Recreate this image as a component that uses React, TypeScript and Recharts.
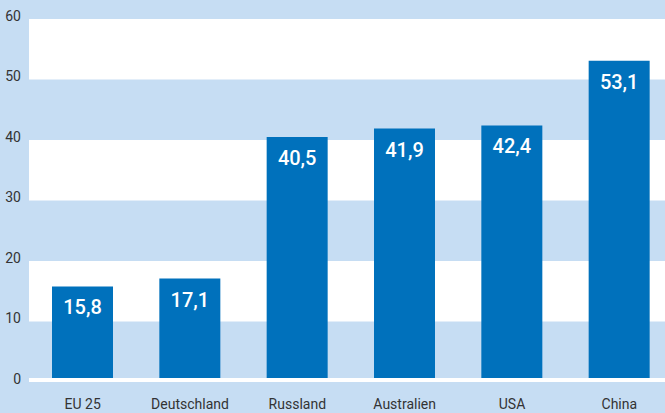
import React from "react";
import { BarChart, Bar, XAxis, YAxis, ReferenceArea, ReferenceLine, LabelList } from "recharts";

if (typeof document !== "undefined") document.body.style.margin = "0";

const laender = ["EU 25", "Deutschland", "Russland", "Australien", "USA", "China"];
const werte = [15.8, 17.1, 40.5, 41.9, 42.4, 53.1];
const yTicks = [0, 10, 20, 30, 40, 50, 60];
// weisse Streifen zwischen diesen Tick-Werten
const streifen = [
  [10, 20],
  [30, 40],
  [50, 60],
];

const data = laender.map((land, i) => ({ land, wert: werte[i] }));

const FONT = "Roboto, 'Noto Sans', sans-serif";
const BG = "#c6ddf3";
const BAR = "#0071bc";
const TEXT = "#333333";

const fmt = (v: number) => v.toFixed(1).replace(".", ",");

function YTick({ x, y, payload }: any) {
  return (
    <text x={x} y={y} dy={1.5} textAnchor="end" fontFamily={FONT} fontSize={14} fill={TEXT}>
      {payload.value}
    </text>
  );
}

function XTick({ x, y, payload }: any) {
  return (
    <text x={x} y={y + 19} textAnchor="middle" fontFamily={FONT} fontSize={14} fill={TEXT}>
      {payload.value}
    </text>
  );
}

function WertLabel({ x, y, width, value }: any) {
  return (
    <text
      x={x + width / 2}
      y={y + 28}
      textAnchor="middle"
      fontFamily={FONT}
      fontSize={20}
      fontWeight={500}
      fill="#ffffff"
    >
      {fmt(value)}
    </text>
  );
}

export default function App() {
  return (
    <div style={{ width: 665, height: 413, background: BG, overflow: "hidden", position: "relative" }}>
      <BarChart width={673} height={413} data={data} margin={{ top: 19, right: 0, bottom: 0, left: 0 }} barSize={61}>
        {streifen.map(([a, b]) => (
          <ReferenceArea key={a} y1={a} y2={b} fill="#ffffff" fillOpacity={1} stroke="none" />
        ))}
        <XAxis dataKey="land" axisLine={false} tickLine={false} height={31} interval={0} tick={<XTick />} />
        <YAxis
          domain={[0, 60]}
          ticks={yTicks}
          axisLine={false}
          tickLine={false}
          width={29}
          interval={0}
          tick={<YTick />}
        />
        <Bar dataKey="wert" fill={BAR} isAnimationActive={false}>
          <LabelList dataKey="wert" content={<WertLabel />} />
        </Bar>
        <ReferenceLine
          y={0}
          shape={(p: any) => (
            <rect x={p.x1} y={p.y1 - 4} width={p.x2 - p.x1} height={4} fill="#ffffff" />
          )}
        />
      </BarChart>
    </div>
  );
}
